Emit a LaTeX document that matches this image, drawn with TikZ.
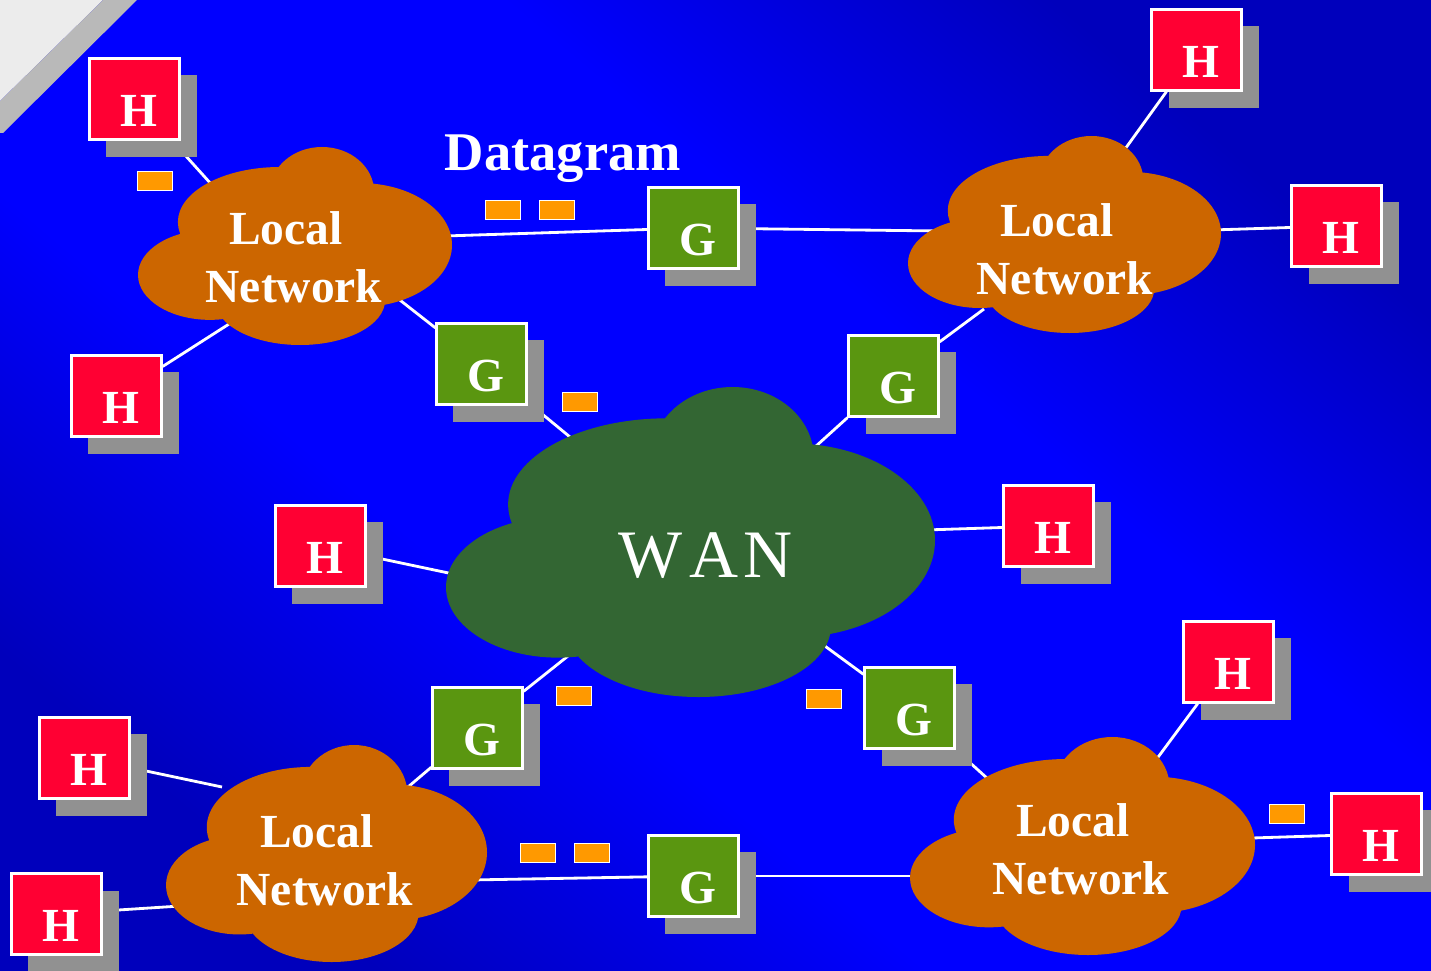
\documentclass[tikz,border=0pt]{standalone}
\usepackage{fontspec}
\setmainfont{Liberation Serif}
\usepackage{tikz}
\usetikzlibrary{shapes,shadows}
\definecolor{hostred}{RGB}{255,0,51}
\definecolor{gatgreen}{RGB}{90,150,16}
\definecolor{shadowgray}{RGB}{145,145,145}
\definecolor{lanorange}{RGB}{204,102,0}
\definecolor{wangreen}{RGB}{51,102,51}
\definecolor{packorange}{RGB}{255,153,0}
\definecolor{bgblue}{RGB}{0,0,255}
\definecolor{bgdark}{RGB}{0,0,188}
\definecolor{foldlight}{RGB}{236,236,236}
\definecolor{folddark}{RGB}{185,185,185}
\pgfdeclarelayer{backdrop}
\pgfdeclarelayer{links}
\pgfsetlayers{backdrop,links,main}
\pgfdeclareverticalshading{slidebg}{100bp}{color(0bp)=(bgdark); color(25bp)=(bgdark); color(40bp)=(bgblue); color(60bp)=(bgblue); color(75bp)=(bgdark); color(100bp)=(bgdark)}
\tikzstyle{hostbox} = [rectangle, draw=white, line width=0.65pt, fill=hostred, minimum width=0.9cm, minimum height=0.81cm, text width=0.46cm, align=right, text height=0.55cm, text depth=0pt, text=white, font=\fontsize{13.5}{16}\selectfont\bfseries, drop shadow={shadow xshift=0.17cm, shadow yshift=-0.17cm, opacity=1, fill=shadowgray}]
\tikzstyle{gatebox} = [hostbox, fill=gatgreen]
\tikzstyle{packet} = [rectangle, draw=white, line width=0.5pt, fill=packorange, minimum width=0.35cm, minimum height=0.19cm, inner sep=0pt]
\tikzstyle{link} = [draw=white, line width=0.8pt]
\tikzstyle{nettext} = [text=white, align=center, font=\fontsize{13.5}{16.5}\selectfont\bfseries]
\newcommand{\netcloud}[5]{%
  \begin{scope}[shift={(#1,#2)}, xscale=#3, yscale=#4]
    \fill[#5] (58.6,22.7) ellipse [x radius=16.6, y radius=22.7]
      (45.2,37.9) ellipse [x radius=32.5, y radius=27.8]
      (70.7,49.5) ellipse [x radius=29.3, y radius=31.3]
      (22.9,64.6) ellipse [x radius=22.9, y radius=22.7]
      (51.6,77.3) ellipse [x radius=27.1, y radius=22.7];
  \end{scope}}

\begin{document}
\begin{tikzpicture}[x=0.01cm, y=-0.01cm]
\useasboundingbox (0,0) rectangle (1431,970);
\begin{pgfonlayer}{backdrop}
\shade[shading=slidebg, shading angle=-40] (0,0) rectangle (1431,970);
\fill[foldlight] (0,0) -- (103,0) -- (0,101) -- cycle;
\fill[folddark] (103,0) -- (137,0) -- (3,133) -- (0,133) -- (0,101) -- cycle;
\end{pgfonlayer}

\netcloud{138}{147}{3.14}{1.98}{lanorange}
\netcloud{908}{136}{3.13}{1.97}{lanorange}
\netcloud{166}{745}{3.21}{2.17}{lanorange}
\netcloud{910}{737}{3.45}{2.18}{lanorange}
\netcloud{446}{387}{4.89}{3.10}{wangreen}

\node[nettext] (ln1) at (294,257) {Local\hspace*{0.16cm}\\Network};
\node[nettext] (ln2) at (1065,249) {Local\hspace*{0.16cm}\\Network};
\node[nettext] (ln3) at (325,860) {Local\hspace*{0.16cm}\\Network};
\node[nettext] (ln4) at (1081,849) {Local\hspace*{0.16cm}\\Network};
\node[text=white, font=\fontsize{19.3}{22}\selectfont] (wan) at (706,556) {W\kern0.06cm A\kern0.06cm N};
\node[text=white, font=\fontsize{15.5}{18}\selectfont\bfseries, anchor=base] (dgram) at (563,170) {Datagram};

\node[hostbox] (h1) at (134.5,99) {H};
\node[hostbox] (h2) at (116.5,396) {H};
\node[hostbox] (h3) at (1196.5,50) {H};
\node[hostbox] (h4) at (1336.5,226) {H};
\node[hostbox] (h5) at (320.5,546) {H};
\node[hostbox] (h6) at (1048.5,526) {H};
\node[hostbox] (h7) at (1228.5,662) {H};
\node[hostbox] (h8) at (1376.5,834) {H};
\node[hostbox] (h9) at (84.5,758) {H};
\node[hostbox] (h10) at (56.5,914) {H};

\node[gatebox] (g1) at (693.5,228) {G};
\node[gatebox] (g2) at (481.5,364) {G};
\node[gatebox] (g3) at (893.5,376) {G};
\node[gatebox] (g4) at (477.5,728) {G};
\node[gatebox] (g5) at (909.5,708) {G};
\node[gatebox] (g6) at (693.5,876) {G};

\node[packet] (p1) at (155,181) {};
\node[packet] (p2) at (503,210) {};
\node[packet] (p3) at (557,210) {};
\node[packet] (p4) at (580,402) {};
\node[packet] (p5) at (574,696) {};
\node[packet] (p6) at (824,699) {};
\node[packet] (p7) at (538,853) {};
\node[packet] (p8) at (592,853) {};
\node[packet] (p9) at (1287,814) {};

\coordinate (ln1-h1) at (212,185);
\coordinate (ln1-h2) at (240,317);
\coordinate (ln1-g1) at (445,236);
\coordinate (ln1-g2) at (396,297);
\coordinate (ln2-g1) at (940,231);
\coordinate (ln2-h3) at (1120,156);
\coordinate (ln2-h4) at (1212,230);
\coordinate (ln2-g3) at (984,309);
\coordinate (wan-g2) at (570,437);
\coordinate (wan-g3) at (815,447);
\coordinate (wan-h5) at (458,575);
\coordinate (wan-h6) at (925,530);
\coordinate (wan-g4) at (568,656);
\coordinate (wan-g5) at (818,641);
\coordinate (ln3-g4) at (408,787);
\coordinate (ln3-h9) at (222,787);
\coordinate (ln3-h10) at (180,906);
\coordinate (ln3-g6) at (470,880);
\coordinate (ln4-g6) at (918,876);
\coordinate (ln4-g5) at (988,779);
\coordinate (ln4-h7) at (1150,768);
\coordinate (ln4-h8) at (1252,838);

\begin{pgfonlayer}{links}
\draw[link] (h1) -- (ln1-h1);
\draw[link] (h2) -- (ln1-h2);
\draw[link] (g1) -- (ln1-g1);
\draw[link] (g2) -- (ln1-g2);
\draw[link] (g1) -- (ln2-g1);
\draw[link] (h3) -- (ln2-h3);
\draw[link] (h4) -- (ln2-h4);
\draw[link] (g3) -- (ln2-g3);
\draw[link] (g2) -- (wan-g2);
\draw[link] (g3) -- (wan-g3);
\draw[link] (h5) -- (wan-h5);
\draw[link] (h6) -- (wan-h6);
\draw[link] (g4) -- (wan-g4);
\draw[link] (g5) -- (wan-g5);
\draw[link] (g4) -- (ln3-g4);
\draw[link] (h9) -- (ln3-h9);
\draw[link] (h10) -- (ln3-h10);
\draw[link] (g6) -- (ln3-g6);
\draw[link] (g6) -- (ln4-g6);
\draw[link] (g5) -- (ln4-g5);
\draw[link] (h7) -- (ln4-h7);
\draw[link] (h8) -- (ln4-h8);
\end{pgfonlayer}
\end{tikzpicture}
\end{document}
